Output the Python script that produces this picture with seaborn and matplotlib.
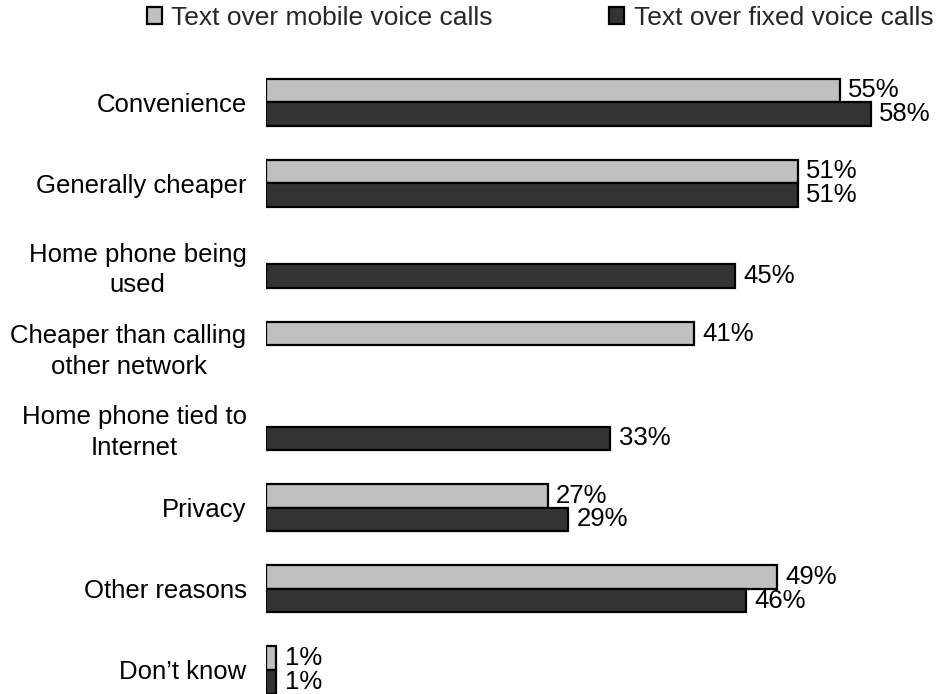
import numpy as np
import pandas as pd
import matplotlib
matplotlib.use("Agg")
import matplotlib.pyplot as plt
import seaborn as sns

categories = [
    "Convenience",
    "Generally cheaper",
    "Home phone being\nused",
    "Cheaper than calling\nother network",
    "Home phone tied to\nInternet",
    "Privacy",
    "Other reasons",
    "Don\u2019t know",
]
series_names = ["Text over mobile voice calls", "Text over fixed voice calls"]
mobile_values = [55, 51, np.nan, 41, np.nan, 27, 49, 1]
fixed_values = [58, 51, 45, np.nan, 33, 29, 46, 1]
colors = ["#C0C0C0", "#333333"]

sns.set_theme(style="white")
plt.rcParams["font.family"] = ["Liberation Sans", "DejaVu Sans"]

df = pd.DataFrame({
    "reason": categories * 2,
    "series": [series_names[0]] * len(categories) + [series_names[1]] * len(categories),
    "pct": mobile_values + fixed_values,
}).dropna()

W, H = 946, 694
fig = plt.figure(figsize=(W / 100, H / 100), dpi=100)
ax = fig.add_axes([266 / W, 0, 1 - 266 / W, 1])

sns.barplot(
    data=df, x="pct", y="reason", hue="series", order=categories,
    hue_order=series_names, palette=colors, orient="h", width=0.58,
    edgecolor="black", linewidth=1.6, errorbar=None, saturation=1,
    legend=False, ax=ax,
)

for container in ax.containers:
    ax.bar_label(container, fmt="%.0f%%", padding=6, fontsize=18.5, color="black")

ax.set_xlim(0, 65.2)
ax.set_ylim(7.296, -1.258)
ax.set_xlabel("")
ax.set_ylabel("")
ax.set_xticks([])
for s in ax.spines.values():
    s.set_visible(False)
ax.tick_params(axis="y", length=0, pad=14, labelsize=18.5, labelcolor="black")
for lbl in ax.get_yticklabels():
    lbl.set_multialignment("center")
    lbl.set_linespacing(1.35)

handles = [
    plt.Rectangle((0, 0), 1, 1, facecolor=c, edgecolor="black", linewidth=1.6)
    for c in colors
]
fig.legend(
    handles, series_names, loc="center", bbox_to_anchor=(540 / W, 1 - 18 / H),
    ncol=2, frameon=False, fontsize=19, handlelength=0.58, handleheight=0.58,
    handletextpad=0.35, columnspacing=4.4, borderaxespad=0, borderpad=0,
)

fig.savefig("out.png", dpi=100)
